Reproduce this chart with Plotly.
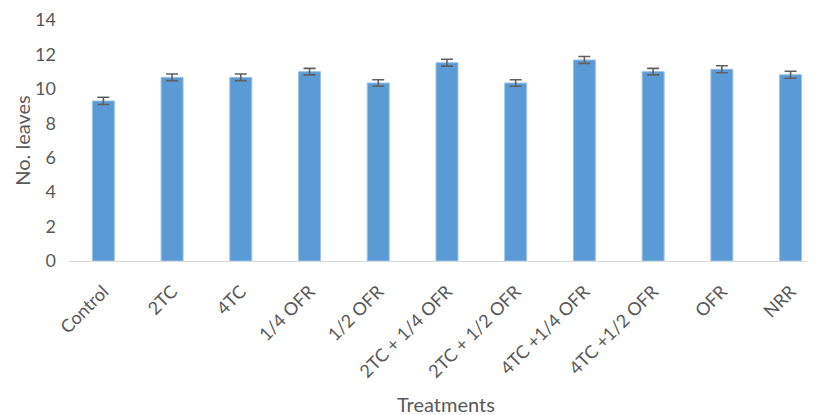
import plotly.graph_objects as go

categories = ["Control", "2TC", "4TC", "1/4 OFR", "1/2 OFR", "2TC + 1/4 OFR",
              "2TC + 1/2 OFR", "4TC +1/4 OFR", "4TC +1/2 OFR", "OFR", "NRR"]
leaves = [9.3, 10.67, 10.67, 11.0, 10.34, 11.52, 10.34, 11.68, 11.0, 11.14, 10.82]
errors = [0.21, 0.19, 0.19, 0.19, 0.19, 0.2, 0.19, 0.2, 0.19, 0.2, 0.2]
y_ticks = [0, 2, 4, 6, 8, 10, 12, 14]

FONT = "Lato"
GRAY = "#595959"

fig = go.Figure(go.Bar(
    x=categories, y=leaves,
    width=0.32,
    marker=dict(color="#5b9bd5", line=dict(color="#9dc3e6", width=1)),
    error_y=dict(type="data", array=errors, visible=True, color="#606060",
                 thickness=1.6, width=6),
))

# the page body adds an 8px margin, so the figure is 8px smaller and offset
fig.update_layout(
    width=808, height=407,
    margin=dict(l=61, r=0, t=12, b=154, autoexpand=False),
    plot_bgcolor="white", paper_bgcolor="white",
    showlegend=False,
    font=dict(family=FONT, color=GRAY, size=18),
    annotations=[
        dict(text="Treatments", xref="paper", yref="paper", x=0.505, y=-0.594,
             xanchor="center", yanchor="middle", showarrow=False,
             font=dict(size=20, color=GRAY, family=FONT)),
        dict(text="No. leaves", xref="paper", yref="paper", x=-0.064, y=0.5,
             xanchor="center", yanchor="middle", showarrow=False, textangle=-90,
             font=dict(size=20, color=GRAY, family=FONT)),
    ],
)
fig.update_xaxes(
    range=[-0.5, 10.37], automargin=False,
    showline=True, linecolor="#d9d9d9", linewidth=1,
    tickangle=-45, tickfont=dict(size=18, color=GRAY, family=FONT),
    ticks="", showgrid=False, ticklabelstandoff=12,
)
fig.update_yaxes(
    range=[0, 14], tickvals=y_ticks, ticks="", showgrid=False, zeroline=False,
    showline=False, automargin=False, ticklabelstandoff=12,
    ticklabeloverflow="allow",
    tickfont=dict(size=18, color=GRAY, family=FONT),
)

fig.write_html("out.html")
